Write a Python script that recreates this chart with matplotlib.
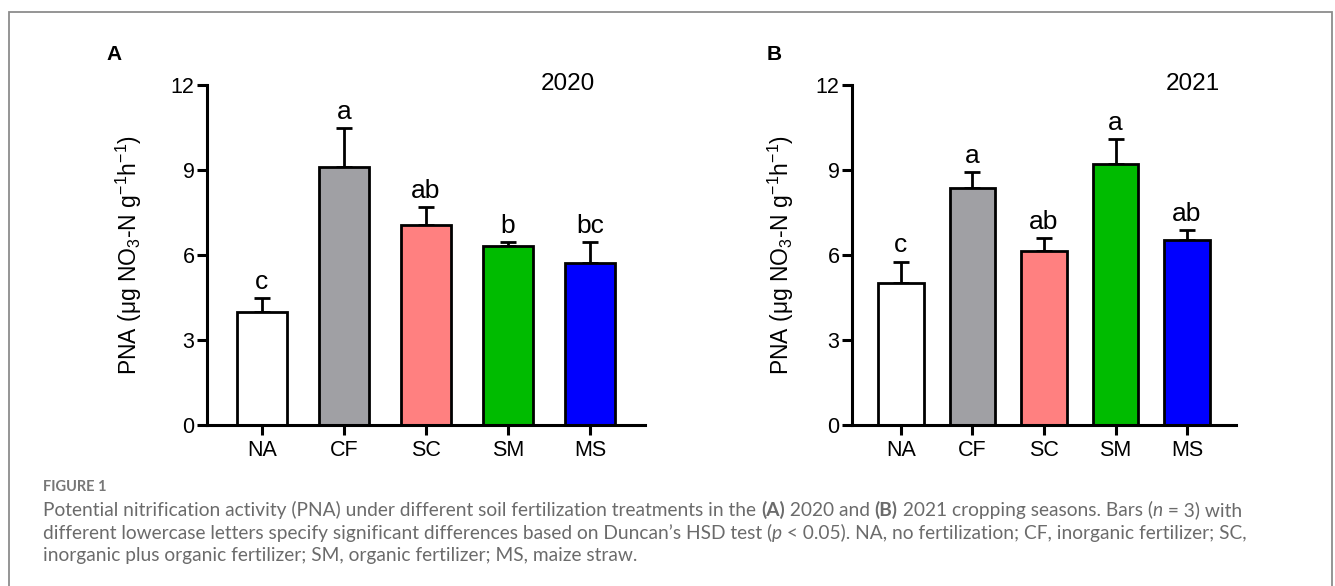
import numpy as np
import matplotlib
matplotlib.use('Agg')
import matplotlib.pyplot as plt
from matplotlib.patches import Rectangle

plt.rcParams['font.family'] = 'Liberation Sans'
plt.rcParams['mathtext.default'] = 'regular'

# Dados
treatments = ['NA', 'CF', 'SC', 'SM', 'MS']
colors = ['#ffffff', '#a0a0a4', '#ff8080', '#00bb00', '#0000ff']

pna_2020 = [4.0, 9.1, 7.05, 6.32, 5.72]
err_2020 = [0.48, 1.38, 0.65, 0.15, 0.75]
letters_2020 = ['c', 'a', 'ab', 'b', 'bc']

pna_2021 = [5.0, 8.38, 6.14, 9.22, 6.52]
err_2021 = [0.77, 0.56, 0.47, 0.87, 0.35]
letters_2021 = ['c', 'a', 'ab', 'a', 'ab']

fig = plt.figure(figsize=(13.35, 5.86), dpi=100)

# moldura cinza (aberta embaixo)
fig.patches.append(Rectangle((9/1335, -0.05), (1332-9)/1335, 1.05 - 12/586,
                             transform=fig.transFigure, fill=False,
                             ec='#8c8c8c', lw=1.3))

def painel(ax, vals, errs, letras, ano, width, xlim, ano_x, lpad):
    x = np.arange(len(vals))
    ax.errorbar(x, vals, yerr=[np.zeros(len(errs)), errs], fmt='none',
                ecolor='black', elinewidth=2, capsize=5.5, capthick=2, zorder=1)
    ax.bar(x, vals, width=width, color=colors, edgecolor='black', linewidth=2, zorder=2)
    for xi, v, e, l in zip(x, vals, errs, letras):
        ax.annotate(l, (xi, v + e), xytext=(0, 3), textcoords='offset points',
                    ha='center', va='bottom', fontsize=19)
    ax.text(ano_x, 12.05, ano, ha='center', va='center', fontsize=17.5)
    ax.set_ylim(0, 12)
    ax.set_xlim(*xlim)
    ax.set_yticks([0, 3, 6, 9, 12])
    ax.set_xticks(x)
    ax.set_xticklabels(treatments)
    for s in ['top', 'right']:
        ax.spines[s].set_visible(False)
    for s in ['left', 'bottom']:
        ax.spines[s].set_linewidth(2.2)
    ax.tick_params(axis='both', width=2.2, length=7, labelsize=15.5, direction='out')
    ax.tick_params(axis='y', pad=2)
    ax.set_ylabel('PNA (μg NO$_3$-N g$^{-1}$h$^{-1}$)', fontsize=16.5, labelpad=lpad)

axA = fig.add_axes([207/1335, 1 - 425/586, (645-207)/1335, (425-85)/586])
axB = fig.add_axes([852/1335, 1 - 425/586, (1236-852)/1335, (425-85)/586])

painel(axA, pna_2020, err_2020, letters_2020, '2020', 0.61, (-0.67, 4.67), 3.73, 19)
painel(axB, pna_2021, err_2021, letters_2021, '2021', 0.64, (-0.685, 4.685), 4.08, 14)

fig.text(114/1335, 1 - 55/586, 'A', fontsize=15, fontweight='bold', ha='center', va='center')
fig.text(774/1335, 1 - 55/586, 'B', fontsize=15, fontweight='bold', ha='center', va='center')

# legenda da figura
cor_leg = '#6b6b6b'
fig.text(43/1335, 1 - 487/586, 'FIGURE 1', fontsize=10.5, color='#777777',
         family='Lato', fontweight='bold', va='center')

linhas = [
    [('Potential nitrification activity (PNA) under different soil fertilization treatments in the ', {}),
     ('(A)', {'fontweight': 'bold'}), (' 2020 and ', {}), ('(B)', {'fontweight': 'bold'}),
     (' 2021 cropping seasons. Bars (', {}), ('n', {'style': 'italic'}), (' = 3) with', {})],
    [('different lowercase letters specify significant differences based on Duncan\u2019s HSD test (', {}),
     ('p', {'style': 'italic'}), (' < 0.05). NA, no fertilization; CF, inorganic fertilizer; SC,', {})],
    [('inorganic plus organic fertilizer; SM, organic fertilizer; MS, maize straw.', {})],
]
ys = [510, 533, 556]

fig.canvas.draw()
r = fig.canvas.get_renderer()
for linha, y in zip(linhas, ys):
    xp = 43
    for txt, kw in linha:
        t = fig.text(xp/1335, 1 - y/586, txt, fontsize=13.8, color=cor_leg,
                     family='Lato', va='center', **kw)
        bb = t.get_window_extent(renderer=r)
        xp += bb.width

fig.savefig('out.png', dpi=100)
